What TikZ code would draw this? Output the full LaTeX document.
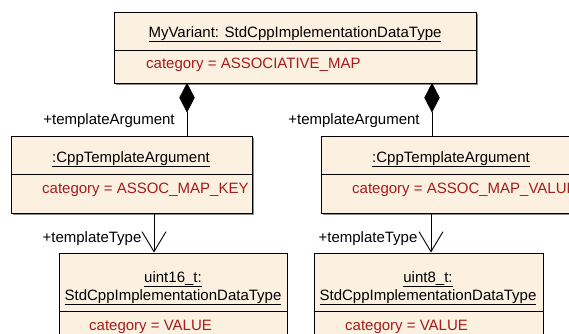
\documentclass[tikz,border=0pt]{standalone}
\usepackage{fontspec}
\setmainfont{Liberation Sans}
\usetikzlibrary{shapes.geometric,arrows.meta}
\definecolor{boxfill}{RGB}{252,240,224}
\definecolor{attr}{RGB}{165,28,28}
\definecolor{shadowgray}{RGB}{140,140,140}
\tikzset{
  umlbox/.style={draw=black,line width=0.9pt,fill=boxfill,rectangle,inner sep=0pt},
  shadowbox/.style={fill=shadowgray,draw=none,rectangle,inner sep=0pt},
  titletext/.style={font=\fontsize{15}{17}\selectfont,inner sep=0pt,anchor=base,align=center},
  attrtext/.style={font=\fontsize{15}{17}\selectfont,text=attr,inner sep=0pt,anchor=base west},
  roletext/.style={font=\fontsize{15}{17}\selectfont,inner sep=0pt,anchor=base},
  divider/.style={line width=0.8pt},
  compdiamond/.style={diamond,fill=black,draw=black,inner sep=0pt,minimum width=15pt,minimum height=29pt},
  conn/.style={line width=0.9pt},
  openarrow/.style={line width=0.9pt,-{Straight Barb[length=20pt,width=24pt,line width=0.9pt]}}
}
\newcommand{\ul}[1]{\underline{#1}}
\begin{document}
\begin{tikzpicture}[x=1pt,y=-1pt]
\useasboundingbox[fill=white] (0,0) rectangle (569,333);
\clip (0,0) rectangle (569,333);
% shadows
\node[shadowbox,minimum width=362pt,minimum height=71pt] at (297,49.5) {};
\node[shadowbox,minimum width=241pt,minimum height=77pt] at (133.5,176.5) {};
\node[shadowbox,minimum width=260pt,minimum height=77pt] at (453,176.5) {};
% boxes
\node[umlbox,minimum width=362pt,minimum height=71pt] (top) at (295,47.5) {};
\node[umlbox,minimum width=241pt,minimum height=77pt] (ka) at (131.5,174.5) {};
\node[umlbox,minimum width=260pt,minimum height=77pt] (va) at (451,174.5) {};
\node[umlbox,minimum width=228pt,minimum height=100pt] (u16) at (173,303) {};
\node[umlbox,minimum width=229pt,minimum height=100pt] (u8) at (428.5,303) {};
% dividers
\draw[divider] (top.west |- 0,50) -- (top.east |- 0,50);
\draw[divider] (ka.west |- 0,174) -- (ka.east |- 0,174);
\draw[divider] (va.west |- 0,174) -- (va.east |- 0,174);
\draw[divider] (u16.west |- 0,311) -- (u16.east |- 0,311);
\draw[divider] (u8.west |- 0,311) -- (u8.east |- 0,311);
% texts
\node[titletext] (topT) at (295,37) {\ul{MyVariant: StdCppImplementationDataType}};
\node[attrtext] (topC) at (146,68) {category = ASSOCIATIVE\_MAP};
\node[titletext] (kaT) at (131,162) {\ul{:CppTemplateArgument}};
\node[attrtext] (kaC) at (42,193) {category = ASSOC\_MAP\_KEY};
\node[titletext] (vaT) at (451,162) {\ul{:CppTemplateArgument}};
\node[attrtext] (vaC) at (352,193) {category = ASSOC\_MAP\_VALUE};
\node[titletext] (u16T) at (173,282) {\ul{uint16\_t:}};
\node[titletext] (u16S) at (173,300) {\ul{StdCppImplementationDataType}};
\node[attrtext] (u16C) at (89,330) {category = VALUE};
\node[titletext] (u8T) at (428,282) {\ul{uint8\_t:}};
\node[titletext] (u8S) at (428,300) {\ul{StdCppImplementationDataType}};
\node[attrtext] (u8C) at (345,330) {category = VALUE};
% composition connectors
\node[compdiamond,anchor=north] (dL) at (187,83) {};
\node[compdiamond,anchor=north] (dR) at (432,83) {};
\draw[conn] (dL.south) -- (dL.south |- ka.north);
\draw[conn] (dR.south) -- (dR.south |- va.north);
\node[roletext] (rL) at (109,124) {+templateArgument};
\node[roletext] (rR) at (354,124) {+templateArgument};
% association arrows
\coordinate (aLs) at (154,213);
\coordinate (aRs) at (431,213);
\draw[openarrow] (aLs) -- (aLs |- u16.north);
\draw[openarrow] (aRs) -- (aRs |- u8.north);
\node[roletext] (tL) at (92,242) {+templateType};
\node[roletext] (tR) at (368,242) {+templateType};
\end{tikzpicture}
\end{document}
